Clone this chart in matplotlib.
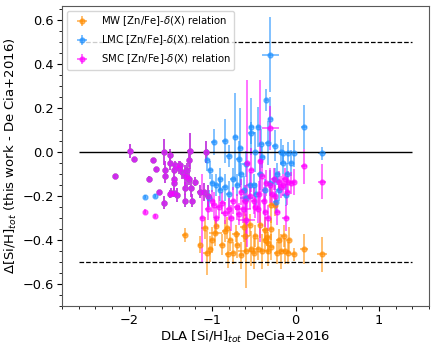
import numpy as np
import matplotlib.pyplot as plt
from matplotlib.ticker import MultipleLocator

# low-metallicity DLAs where all three relations give the same value
com_x = [-1.98, -1.94, -2.16, -1.58, -1.51, -1.71, -1.50, -1.67, -1.56, -1.56, -1.76, -1.64, -1.58,
         -1.27, -1.07, -1.40, -1.38, -1.36, -1.46, -1.46, -1.46, -1.32, -1.28, -1.30, -1.25, -1.33,
         -1.49, -1.46, -1.42, -1.33, -1.24, -1.20, -1.15, -1.51, -1.45, -1.30, -1.28, -1.10, -1.05]
com_y = [0.005, -0.03, -0.11, 0.00, -0.015, -0.036, -0.05, -0.077, -0.08, -0.11, -0.12, -0.18, -0.23,
         0.005, 0.00, -0.07, -0.06, -0.09, -0.08, -0.12, -0.14, -0.11, -0.037, -0.115, -0.165, -0.165,
         -0.185, -0.185, -0.195, -0.22, -0.22, -0.135, -0.18, -0.19, -0.06, -0.08, -0.12, -0.18, -0.20]
com_xe = [0.03, 0.01, 0.01, 0.02, 0.02, 0.01, 0.02, 0.01, 0.02, 0.02, 0.01, 0.01, 0.02,
          0.03, 0.03, 0.02, 0.02, 0.02, 0.02, 0.02, 0.02, 0.03, 0.02, 0.03, 0.02, 0.02,
          0.01, 0.02, 0.02, 0.02, 0.02, 0.02, 0.03, 0.02, 0.02, 0.02, 0.02, 0.03, 0.03]
com_ye = [0.03, 0.01, 0.01, 0.06, 0.03, 0.01, 0.03, 0.01, 0.04, 0.03, 0.01, 0.01, 0.03,
          0.08, 0.05, 0.03, 0.02, 0.03, 0.02, 0.03, 0.03, 0.05, 0.03, 0.04, 0.04, 0.03,
          0.02, 0.02, 0.03, 0.03, 0.03, 0.02, 0.03, 0.02, 0.02, 0.03, 0.03, 0.04, 0.05]

mw_x = [-1.33, -1.15, -1.09, -1.02, -1.06, -0.96, -0.95, -0.82, -0.81, -0.78, -0.71, -0.60, -0.59,
        -0.53, -0.45, -0.40, -0.37, -0.36, -0.34, -0.33, -0.29, -0.29, -0.25, -0.29, -0.17, -0.13,
        -0.09, -0.02, 0.10, 0.32, -0.33, -0.14, -0.55, -0.88, -0.65,
        -0.85, -0.70, -0.62, -0.48, -0.42, -0.20, -0.08, -0.75, -0.50, -0.22, -1.00]
mw_y = [-0.377, -0.42, -0.344, -0.44, -0.46, -0.367, -0.335, -0.345, -0.465, -0.40, -0.37, -0.38, -0.45,
        -0.44, -0.44, -0.45, -0.355, -0.40, -0.385, -0.45, -0.43, -0.24, -0.24, -0.35, -0.45, -0.45,
        -0.46, -0.465, -0.44, -0.465, -0.415, -0.38, -0.33, -0.42, -0.47,
        -0.36, -0.42, -0.34, -0.38, -0.33, -0.40, -0.40, -0.46, -0.46, -0.46, -0.40]
mw_xe = [0.03, 0.02, 0.04, 0.03, 0.05, 0.08, 0.03, 0.03, 0.03, 0.03, 0.05, 0.05, 0.10,
         0.03, 0.05, 0.03, 0.03, 0.03, 0.03, 0.03, 0.03, 0.03, 0.03, 0.03, 0.03, 0.05,
         0.03, 0.03, 0.05, 0.06, 0.03, 0.03, 0.03, 0.04, 0.03,
         0.03, 0.03, 0.04, 0.03, 0.03, 0.03, 0.03, 0.03, 0.03, 0.04, 0.03]
mw_ye = [0.03, 0.04, 0.05, 0.06, 0.10, 0.06, 0.04, 0.05, 0.06, 0.05, 0.04, 0.08, 0.17,
         0.08, 0.05, 0.08, 0.06, 0.05, 0.04, 0.07, 0.06, 0.08, 0.05, 0.05, 0.08, 0.06,
         0.05, 0.03, 0.07, 0.08, 0.05, 0.05, 0.05, 0.05, 0.06,
         0.05, 0.06, 0.07, 0.05, 0.06, 0.05, 0.06, 0.05, 0.07, 0.05, 0.06]

lmc_x = [-1.80, -1.68, -0.30, -0.35, -0.30, -0.53, -0.45, -0.53, 0.10, 0.32, -0.02, -0.09, -0.15,
         -0.33, -0.41, -0.98, -1.06, -1.02, -0.80, -0.59, -0.40, -0.15, -0.12, -0.24, -0.47, -0.59,
         -0.80, -1.04, -0.95, -0.90, -0.70, -0.65, -0.72, -0.66, -0.85, -0.55, -0.25, -0.20,
         -0.90, -0.85, -0.75, -0.62, -0.50, -0.43, -0.37, -0.30, -0.22, -0.10, -0.05, -1.00,
         -0.68, -0.48, -0.25, -0.18]
lmc_y = [-0.205, -0.20, 0.444, 0.236, 0.153, 0.115, 0.115, 0.085, 0.115, -0.006, -0.006, -0.006, -0.006,
         0.04, 0.036, 0.047, -0.036, -0.08, -0.018, -0.055, -0.021, -0.05, -0.195, -0.225, -0.19, -0.21,
         -0.19, -0.21, -0.15, -0.17, -0.15, -0.10, 0.07, 0.02, 0.05, -0.15, -0.12, -0.17,
         -0.12, -0.16, -0.12, -0.17, -0.15, -0.10, -0.17, -0.14, -0.10, -0.10, -0.05, -0.14,
         -0.03, 0.00, 0.03, 0.00]
lmc_xe = [0.01, 0.01, 0.10, 0.02, 0.03, 0.03, 0.02, 0.04, 0.04, 0.05, 0.04, 0.03, 0.04,
          0.03, 0.03, 0.03, 0.03, 0.03, 0.03, 0.05, 0.03, 0.04, 0.04, 0.03, 0.03, 0.08,
          0.03, 0.02, 0.03, 0.03, 0.03, 0.03, 0.03, 0.03, 0.03, 0.04, 0.03, 0.03,
          0.03, 0.03, 0.04, 0.03, 0.03, 0.03, 0.03, 0.04, 0.03, 0.03, 0.03, 0.03,
          0.03, 0.03, 0.03, 0.03]
lmc_ye = [0.01, 0.01, 0.17, 0.05, 0.10, 0.13, 0.09, 0.05, 0.10, 0.03, 0.06, 0.05, 0.04,
          0.10, 0.07, 0.06, 0.05, 0.04, 0.05, 0.06, 0.05, 0.05, 0.05, 0.05, 0.05, 0.06,
          0.06, 0.04, 0.05, 0.05, 0.05, 0.05, 0.20, 0.18, 0.10, 0.06, 0.05, 0.05,
          0.05, 0.06, 0.05, 0.06, 0.05, 0.07, 0.05, 0.06, 0.05, 0.05, 0.06, 0.04,
          0.08, 0.09, 0.07, 0.06]

smc_x = [-1.80, -1.68, -0.30, 0.10, 0.32, -0.12, -0.02, -0.09, -0.15, -0.20, -0.53, -0.35, -0.31,
         -0.40, -0.63, -0.59, -0.33, -0.77, -0.95, -0.84, -1.00, -1.12, -0.58, -0.42, -0.70, -0.88,
         -0.50, -0.25, -0.65, -0.45, -0.92,
         -0.55, -0.60, -0.48, -0.38, -0.28, -0.22, -0.18, -0.10, -0.05, -0.75, -0.80, -1.05,
         -0.98, -0.68, -0.44, -0.36, -0.26, -0.13]
smc_y = [-0.27, -0.29, 0.11, -0.064, -0.135, -0.30, -0.135, -0.135, -0.15, -0.135, -0.08, -0.14, -0.15,
         -0.11, -0.26, -0.31, -0.30, -0.30, -0.30, -0.275, -0.22, -0.30, -0.05, -0.04, -0.25, -0.23,
         -0.22, -0.20, -0.18, -0.26, -0.25,
         -0.20, -0.22, -0.25, -0.22, -0.19, -0.27, -0.16, -0.18, -0.14, -0.22, -0.26, -0.26,
         -0.24, -0.28, -0.19, -0.27, -0.12, -0.12]
smc_xe = [0.01, 0.01, 0.10, 0.04, 0.05, 0.04, 0.03, 0.03, 0.03, 0.03, 0.03, 0.03, 0.03,
          0.03, 0.10, 0.10, 0.03, 0.03, 0.03, 0.05, 0.03, 0.02, 0.03, 0.03, 0.04, 0.03,
          0.03, 0.03, 0.03, 0.03, 0.03,
          0.03, 0.04, 0.03, 0.03, 0.03, 0.03, 0.03, 0.03, 0.03, 0.03, 0.03, 0.03,
          0.03, 0.03, 0.03, 0.03, 0.03, 0.03]
smc_ye = [0.01, 0.01, 0.10, 0.08, 0.08, 0.06, 0.06, 0.05, 0.05, 0.05, 0.10, 0.06, 0.08,
          0.07, 0.06, 0.09, 0.06, 0.06, 0.05, 0.05, 0.05, 0.20, 0.38, 0.37, 0.06, 0.05,
          0.06, 0.05, 0.06, 0.06, 0.05,
          0.06, 0.07, 0.05, 0.06, 0.05, 0.06, 0.05, 0.06, 0.05, 0.06, 0.05, 0.05,
          0.06, 0.05, 0.06, 0.07, 0.05, 0.05]

series = [
    ('MW [Zn/Fe]-$\\delta$(X) relation', 'darkorange', mw_x, mw_y, mw_xe, mw_ye),
    ('LMC [Zn/Fe]-$\\delta$(X) relation', 'dodgerblue', lmc_x, lmc_y, lmc_xe, lmc_ye),
    ('SMC [Zn/Fe]-$\\delta$(X) relation', 'magenta', smc_x, smc_y, smc_xe, smc_ye),
]

fig = plt.figure(figsize=(4.36, 3.49), dpi=100)
ax = fig.add_axes([0.142, 0.123, 0.842, 0.86])

for label, col, x, y, xe, ye in series:
    ax.errorbar(np.array(x + com_x), np.array(y + com_y),
                xerr=np.array(xe + com_xe), yerr=np.array(ye + com_ye),
                fmt='o', color=col, ms=3.5, elinewidth=1.3, alpha=0.6, label=label)

ax.hlines(0.0, -2.6, 1.4, color='k', lw=1.0)
ax.hlines([0.5, -0.5], -2.6, 1.4, color='k', lw=0.9, linestyles='--')

ax.set_xlim(-2.8, 1.6)
ax.set_ylim(-0.70, 0.665)
ax.xaxis.set_major_locator(MultipleLocator(1.0))
ax.xaxis.set_minor_locator(MultipleLocator(0.2))
ax.yaxis.set_major_locator(MultipleLocator(0.2))
ax.yaxis.set_minor_locator(MultipleLocator(0.05))
ax.tick_params(labelsize=9.3, pad=2.5)
for s in ax.spines.values():
    s.set_edgecolor('0.35')

ax.set_xlabel('DLA [Si/H]$_{tot}$ DeCia+2016', fontsize=9.5, labelpad=1)
ax.set_ylabel('$\\Delta$[Si/H]$_{tot}$ (this work - De Cia+2016)', fontsize=9.5, labelpad=2)
ax.legend(loc='upper left', fontsize=7.3, borderpad=0.35, handlelength=2.2)

fig.savefig('out.png', dpi=100)
